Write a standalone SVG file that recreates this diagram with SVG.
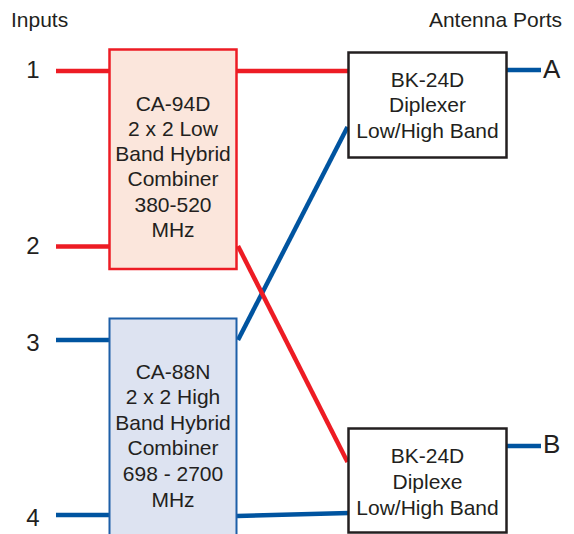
<svg xmlns="http://www.w3.org/2000/svg" width="574" height="534" viewBox="0 0 574 534">
<style>
text{font-family:"Liberation Sans",Arial,sans-serif;fill:#231f20}
.t{font-size:21px;text-anchor:middle}
.n{font-size:24px;text-anchor:middle}
.p{font-size:26px}
.r{stroke:#ed1c24;stroke-width:4.5;fill:none}
.b{stroke:#0054a0;stroke-width:4.5;fill:none}
</style>
<rect width="574" height="534" fill="#ffffff"/>
<g id="labels">
<text x="11" y="27" style="font-size:21px">Inputs</text>
<text x="562" y="27" style="font-size:21px;text-anchor:end">Antenna Ports</text>
<text class="n" x="33" y="78">1</text>
<text class="n" x="33" y="254">2</text>
<text class="n" x="33" y="350.5">3</text>
<text class="n" x="33" y="526">4</text>
<text class="p" x="543" y="77.5">A</text>
<text class="p" x="543" y="452.5">B</text>
</g>
<g id="connectors">
<line class="r" x1="56" y1="71" x2="110" y2="71"/>
<line class="r" x1="56" y1="246.5" x2="110" y2="246.5"/>
<line class="b" x1="56" y1="340" x2="110" y2="340"/>
<line class="b" x1="56" y1="515" x2="110" y2="515"/>
<line class="r" x1="236" y1="71" x2="349" y2="71"/>
<line class="b" x1="237" y1="516" x2="349" y2="513"/>
<line class="b" x1="238" y1="340" x2="347.5" y2="127"/>
<line class="r" x1="238" y1="246" x2="347.5" y2="462"/>
<line class="b" x1="507" y1="70" x2="541" y2="70"/>
<line class="b" x1="507" y1="446" x2="541" y2="446"/>
</g>
<g id="ca94d">
<rect x="109.5" y="49.5" width="127" height="219.5" fill="#fbe6dc" stroke="#ed1c24" stroke-width="2.5"/>
<text class="t" x="173" y="110.5">CA-94D</text>
<text class="t" x="173" y="135.8">2 x 2 Low</text>
<text class="t" x="173" y="161">Band Hybrid</text>
<text class="t" x="173" y="186.3">Combiner</text>
<text class="t" x="173" y="211.6">380-520</text>
<text class="t" x="173" y="237">MHz</text>
</g>
<g id="ca88n">
<rect x="109.5" y="318.5" width="127" height="230" fill="#dde3f1" stroke="#1d5fa8" stroke-width="2"/>
<text class="t" x="173" y="378.5">CA-88N</text>
<text class="t" x="173" y="404.1">2 x 2 High</text>
<text class="t" x="173" y="429.7">Band Hybrid</text>
<text class="t" x="173" y="455.3">Combiner</text>
<text class="t" x="173" y="480.9">698 - 2700</text>
<text class="t" x="173" y="506.5">MHz</text>
</g>
<g id="bk24d-top">
<rect x="348.5" y="52.5" width="158" height="105" fill="#ffffff" stroke="#231f20" stroke-width="2.5"/>
<text class="t" x="427.5" y="86.7">BK-24D</text>
<text class="t" x="427.5" y="112">Diplexer</text>
<text class="t" x="427.5" y="138.3">Low/High Band</text>
</g>
<g id="bk24d-bottom">
<rect x="348.5" y="428.5" width="158" height="104" fill="#ffffff" stroke="#231f20" stroke-width="2.5"/>
<text class="t" x="427.5" y="463.3">BK-24D</text>
<text class="t" x="427.5" y="488.5">Diplexe</text>
<text class="t" x="427.5" y="515">Low/High Band</text>
</g>
</svg>
